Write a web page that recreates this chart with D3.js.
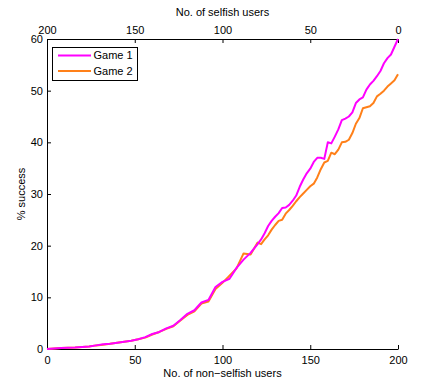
<!DOCTYPE html>
<html>
<head>
<meta charset="utf-8">
<script src="https://cdn.jsdelivr.net/npm/d3@7"></script>
<style>
  html, body { margin: 0; padding: 0; background: #fff; }
  text { font-family: "Liberation Sans", Arial, Helvetica, sans-serif; }
</style>
</head>
<body>
<svg id="chart" width="421" height="383"></svg>
<script>
// Number of non-selfish users (the remaining ones out of 200 are selfish)
const nonSelfish = [0, 4, 8, 12, 16, 20, 24, 28, 32, 36, 40, 44, 48, 52, 56, 60, 64, 68, 72, 76,
  80, 84, 88, 92, 96, 100, 104, 108, 112, 116, 120,
  122, 124, 126, 128, 130, 132, 134, 136, 138, 140, 142, 144, 146, 148, 150, 152, 154, 156, 158, 160,
  162, 164, 166, 168, 170, 172, 174, 176, 178, 180, 182, 184, 186, 188, 190, 192, 194, 196, 198, 200];

// % success for each game
const game1 = [0, 0.1, 0.2, 0.25, 0.3, 0.4, 0.5, 0.7, 0.9, 1.0, 1.2, 1.4, 1.6, 1.9, 2.3, 2.9, 3.3, 4.0, 4.5, 5.6,
  6.8, 7.5, 9.0, 9.5, 12.0, 13.0, 13.6, 15.7, 17.3, 18.6, 20.3,
  21.2, 22.4, 23.8, 24.8, 25.6, 26.3, 27.3, 27.4, 27.9, 28.7, 29.7, 31.4, 32.8, 34.0, 34.9, 36.2, 37.0, 37.0, 36.8, 40.0,
  39.8, 41.1, 42.5, 44.3, 44.6, 45.0, 45.8, 47.6, 48.3, 48.7, 50.2, 51.2, 51.9, 52.8, 53.8, 55.3, 56.3, 57.0, 58.5, 60.0];
const game2 = [0, 0.1, 0.2, 0.25, 0.3, 0.4, 0.5, 0.7, 0.8, 1.0, 1.2, 1.4, 1.6, 1.9, 2.2, 2.8, 3.3, 3.9, 4.4, 5.5,
  6.6, 7.3, 8.8, 9.2, 11.6, 12.8, 14.2, 15.6, 18.5, 18.3, 20.6,
  20.3, 21.2, 22.0, 23.1, 24.0, 24.8, 25.0, 26.2, 26.9, 27.7, 28.6, 29.4, 30.1, 30.8, 31.5, 32.0, 33.2, 34.8, 36.1, 36.4,
  38.0, 37.7, 38.6, 40.0, 40.1, 40.5, 41.8, 43.6, 44.7, 46.6, 46.8, 47.0, 47.6, 48.9, 49.4, 50.0, 50.8, 51.4, 52.0, 53.2];

const seriesNames = ["Game 1", "Game 2"];
const seriesColors = ["#ff00ff", "#ff8019"];

const xTicks = [0, 50, 100, 150, 200];
const yTicks = [0, 10, 20, 30, 40, 50, 60];
const totalUsers = 200;

const svg = d3.select("#chart");
const margin = { left: 47, right: 23, top: 39, bottom: 34 };
const W = 421, H = 383;

const x = d3.scaleLinear().domain([0, 200]).range([margin.left, W - margin.right]);
const xTop = d3.scaleLinear().domain([200, 0]).range([margin.left, W - margin.right]);
const y = d3.scaleLinear().domain([0, 60]).range([H - margin.bottom, margin.top]);

const tickFont = 11;

// bottom axis
const gB = svg.append("g").attr("transform", `translate(0,${H - margin.bottom})`)
  .call(d3.axisBottom(x).tickValues(xTicks).tickSizeInner(-4).tickSizeOuter(0).tickPadding(7));
// top axis (selfish users run the other way)
const gT = svg.append("g").attr("transform", `translate(0,${margin.top})`)
  .call(d3.axisTop(xTop).tickValues(xTicks.map(v => totalUsers - v)).tickSizeInner(-4).tickSizeOuter(0).tickPadding(5));
// left axis
const gL = svg.append("g").attr("transform", `translate(${margin.left},0)`)
  .call(d3.axisLeft(y).tickValues(yTicks).tickSizeInner(-4).tickSizeOuter(0).tickPadding(4));

[gB, gT, gL].forEach(g => {
  g.select(".domain").attr("stroke", "#000").attr("stroke-width", 1);
  g.selectAll(".tick line").attr("stroke", "#000");
  g.selectAll(".tick text").attr("font-size", tickFont).attr("fill", "#000")
    .attr("font-family", "'Liberation Sans', Arial, sans-serif");
});

// curves: game 2 first, game 1 over it
const line = d3.line()
  .x((d, i) => x(nonSelfish[i]))
  .y(d => y(d));

[[game2, seriesColors[1]], [game1, seriesColors[0]]].forEach(([s, c]) => {
  svg.append("path")
    .datum(s)
    .attr("fill", "none")
    .attr("stroke", c)
    .attr("stroke-width", 2)
    .attr("stroke-linejoin", "round")
    .attr("d", line);
});

// legend
const lg = svg.append("g").attr("transform", "translate(52.5,47.5)");
lg.append("rect").attr("width", 85).attr("height", 33)
  .attr("fill", "#fff").attr("stroke", "#000").attr("stroke-width", 1);
seriesNames.forEach((name, k) => {
  const yy = 8 + k * 15.5;
  lg.append("line").attr("x1", 5.5).attr("x2", 38.5).attr("y1", yy).attr("y2", yy)
    .attr("stroke", seriesColors[k]).attr("stroke-width", 2);
  lg.append("text").attr("x", 41).attr("y", yy).attr("dy", "0.35em")
    .attr("font-size", tickFont).attr("fill", "#000").text(name);
});

// axis titles
svg.append("text").attr("x", (x(0) + x(200)) / 2).attr("y", 12).attr("dy", "0.35em")
  .attr("text-anchor", "middle").attr("font-size", tickFont).text("No. of selfish users");
svg.append("text").attr("x", (x(0) + x(200)) / 2).attr("y", 373).attr("dy", "0.35em")
  .attr("text-anchor", "middle").attr("font-size", tickFont).text("No. of non\u2212selfish users");
svg.append("text").attr("transform", `translate(21,${(y(0) + y(60)) / 2}) rotate(-90)`)
  .attr("dy", "0.35em").attr("text-anchor", "middle").attr("font-size", tickFont).text("% success");
</script>
</body>
</html>
